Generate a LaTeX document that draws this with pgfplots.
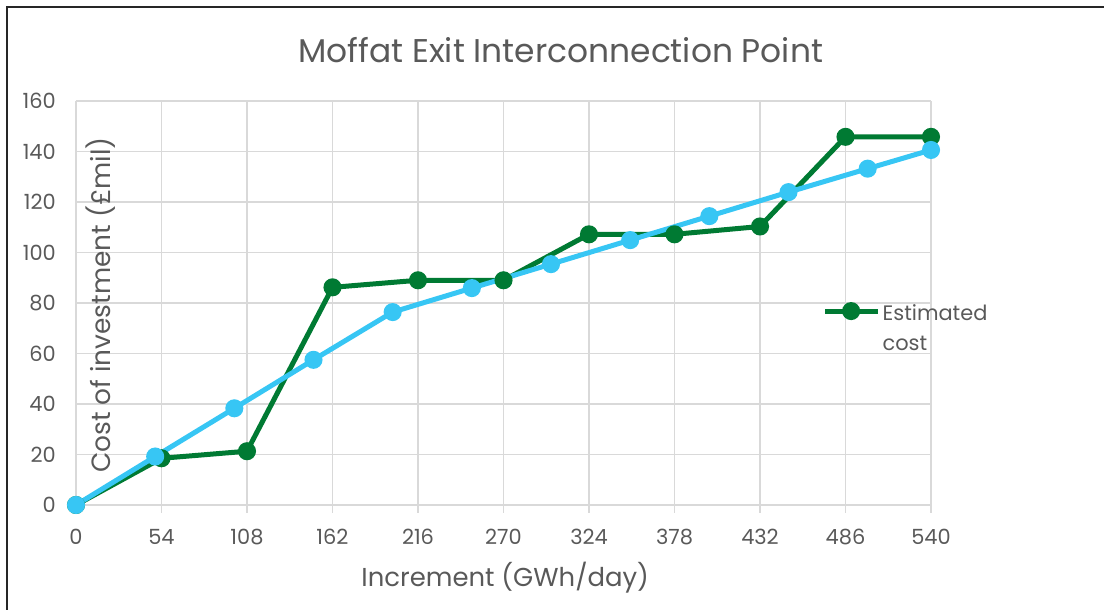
\documentclass[border=0pt]{standalone}
\usepackage{fontspec}
\setmainfont{Poppins}
\usepackage{pgfplots}
\pgfplotsset{compat=1.18}
\definecolor{cgreen}{HTML}{007A33}
\definecolor{cblue}{HTML}{37C6F4}
\definecolor{ctext}{HTML}{595959}
\definecolor{cgrid}{HTML}{D9D9D9}
\begin{document}
\begin{tikzpicture}[x=1bp,y=1bp]
\useasboundingbox (-76,-105) rectangle (1028,505);
\draw[line width=2bp, black!85] (-69,-110) -- (-69,498) -- (1032,498);
\begin{axis}[
  at={(0,0)}, anchor=south west,
  scale only axis, width=855bp, height=404bp,
  xmin=0, xmax=540, ymin=0, ymax=160,
  xtick={0,54,...,540}, ytick={0,20,...,160},
  grid=major, major grid style={cgrid, line width=1.5bp},
  axis line style={draw=none},
  tick align=outside, major tick length=8bp,
  xtick pos=bottom, ytick pos=left,
  xtick style={cgrid, line width=1.5bp}, ytick style={draw=none},
  /pgf/number format/assume math mode=true,
  ticklabel style={font=\fontsize{21}{24}\selectfont, text=ctext, inner sep=0pt},
  xticklabel style={anchor=center, yshift=-24bp},
  yticklabel style={anchor=east, xshift=-12bp},
  title={Moffat Exit Interconnection Point},
  title style={font=\fontsize{33}{38}\selectfont, text=ctext, at={(rel axis cs:0.567,1.112)}, anchor=center},
  xlabel={Increment (GWh/day)},
  xlabel style={font=\fontsize{26}{30}\selectfont, text=ctext, at={(rel axis cs:0.502,-0.181)}, anchor=center},
  ylabel={Cost of investment (£mil)},
  ylabel style={font=\fontsize{26.5}{30}\selectfont, text=ctext, at={(rel axis cs:0.029,0.495)}, anchor=center},
  legend style={at={(rel axis cs:0.873,0.48)}, anchor=west, draw=none, fill=none, inner sep=0pt,
    font=\fontsize{21}{30}\selectfont, text=ctext},
  legend cell align=left,
  legend image code/.code={\draw[#1, mark repeat=2, mark phase=2] plot coordinates {(0bp,0bp) (26bp,0bp) (53bp,0bp)};},
]
\addplot[cgreen, line width=5bp, mark=*, mark size=6.5bp, mark options={solid}] coordinates {
  (0,0) (54,18.5) (108,21.3) (162,86.2) (216,89) (270,89) (324,107.2) (378,107.2) (432,110.3) (486,145.8) (540,145.8)};
\addlegendentry{\begin{tabular}[t]{@{}l@{}}Estimated\\cost\end{tabular}}
\addplot[cblue, line width=5bp, mark=*, mark size=6.5bp, mark options={solid}, forget plot] coordinates {
  (0,0) (50,19.2) (100,38.3) (150,57.5) (200,76.4) (250,85.9) (300,95.4) (350,104.9) (400,114.4) (450,123.9) (500,133.2) (540,140.6)};
\end{axis}
\end{tikzpicture}
\end{document}
